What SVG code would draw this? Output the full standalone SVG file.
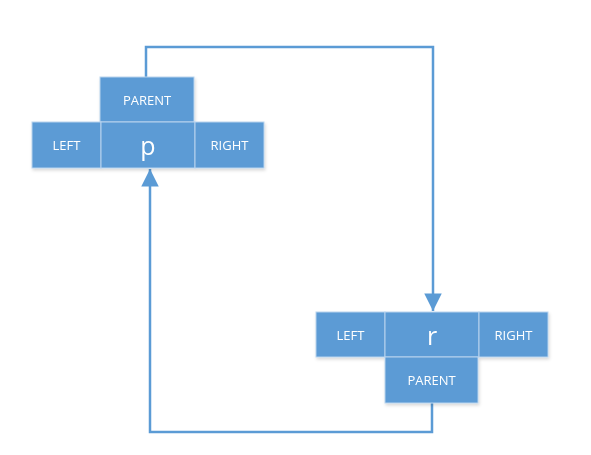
<svg xmlns="http://www.w3.org/2000/svg" width="591" height="455" viewBox="0 0 591 455">
<style>
.box{fill:#5B9BD5;stroke:#B9D3EE;stroke-width:1}
.t{fill:#fff;font-family:"Open Sans","Liberation Sans",sans-serif;font-size:13px;text-anchor:middle;dominant-baseline:central}
.big{font-size:25px}
.ln{fill:none;stroke:#5B9BD5;stroke-width:2.5}
</style>
<defs>
<marker id="ah" viewBox="0 0 10 10" refX="10" refY="5" markerWidth="7.4" markerHeight="7" markerUnits="strokeWidth" orient="auto">
<path d="M0,0 L10,5 L0,10 z" fill="#5B9BD5"/>
</marker>
<filter id="sh" x="-10%" y="-10%" width="130%" height="130%">
<feDropShadow dx="1" dy="2" stdDeviation="1.5" flood-color="#000" flood-opacity="0.15"/>
</filter>
</defs>
<rect width="591" height="455" fill="#fff"/>
<g id="connectors">
<path class="ln" d="M146,77 V47 H433 V311" marker-end="url(#ah)"/>
<path class="ln" d="M432,403 V432 H150 V169" marker-end="url(#ah)"/>
</g>
<g id="p-node" filter="url(#sh)">
<rect class="box" x="100" y="77" width="94" height="45"/>
<text class="t" x="147" y="99.5">PARENT</text>
<rect class="box" x="32" y="122" width="69" height="46"/>
<text class="t" x="66.5" y="145">LEFT</text>
<rect class="box" x="101" y="122" width="94" height="46"/>
<text class="t big" x="148" y="145">p</text>
<rect class="box" x="195" y="122" width="69" height="46"/>
<text class="t" x="229.5" y="145">RIGHT</text>
</g>
<g id="r-node" filter="url(#sh)">
<rect class="box" x="316" y="312" width="69" height="45"/>
<text class="t" x="350.5" y="334.5">LEFT</text>
<rect class="box" x="385" y="312" width="94" height="45"/>
<text class="t big" x="432" y="334.5">r</text>
<rect class="box" x="479" y="312" width="69" height="45"/>
<text class="t" x="513.5" y="334.5">RIGHT</text>
<rect class="box" x="385" y="357" width="93" height="46"/>
<text class="t" x="431.5" y="380">PARENT</text>
</g>
</svg>
